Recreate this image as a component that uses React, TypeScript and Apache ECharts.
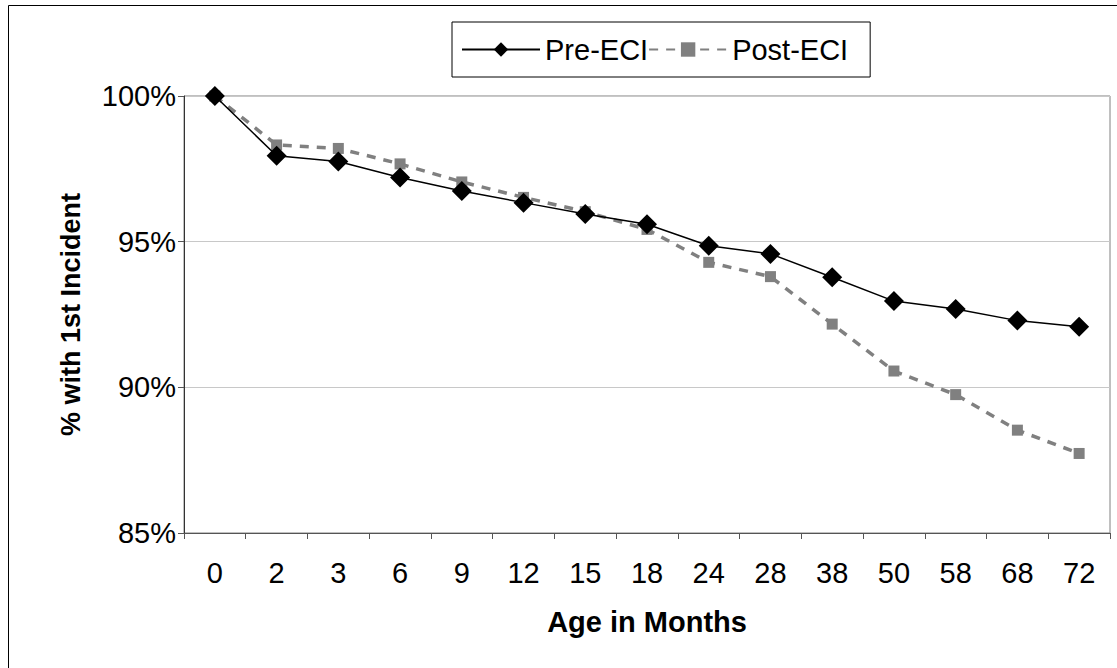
import React, { useEffect, useRef } from "react";
import * as echarts from "echarts";

const categories = ["0", "2", "3", "6", "9", "12", "15", "18", "24", "28", "38", "50", "58", "68", "72"];
const preECI = [100, 97.95, 97.75, 97.2, 96.74, 96.34, 95.95, 95.6, 94.86, 94.58, 93.78, 92.96, 92.69, 92.29, 92.08];
const postECI = [100, 98.32, 98.2, 97.67, 97.05, 96.52, 96.03, 95.42, 94.29, 93.8, 92.17, 90.56, 89.75, 88.53, 87.73];
const yTicks = { min: 85, max: 100, interval: 5 };

const FONT = "'Liberation Sans', Arial, sans-serif";

export default function App() {
  const ref = useRef<HTMLDivElement>(null);
  useEffect(() => {
    if (!ref.current) return;
    const chart = echarts.init(ref.current, null, { renderer: "svg" });
    chart.setOption({
      animation: false,
      backgroundColor: "#ffffff",
      textStyle: { fontFamily: FONT },
      graphic: [
        {
          type: "rect",
          shape: { x: 8.5, y: 5.5, width: 1300, height: 900 },
          style: { fill: "none", stroke: "#000", lineWidth: 1 },
          silent: true,
          z: -10,
        },
      ],
      grid: {
        left: 184,
        right: 7,
        top: 96,
        bottom: 135,
        show: true,
        borderColor: "#808080",
        borderWidth: 1,
        backgroundColor: "transparent",
      },
      legend: {
        left: 452,
        top: 22,
        padding: [13, 22, 13, 9],
        backgroundColor: "#fff",
        borderColor: "#000",
        borderWidth: 1,
        itemWidth: 78,
        itemHeight: 18,
        itemGap: 0,
        textStyle: { fontSize: 29, lineHeight: 29, color: "#000", fontFamily: FONT },
        data: ["Pre-ECI", "Post-ECI"],
      },
      xAxis: {
        type: "category",
        data: categories,
        boundaryGap: true,
        axisLine: { lineStyle: { color: "#555", width: 1 } },
        axisTick: { show: true, interval: 0, length: 6, lineStyle: { color: "#555" } },
        axisLabel: { fontSize: 29, color: "#000", margin: 25, interval: 0, fontFamily: FONT },
        name: "Age in Months",
        nameLocation: "middle",
        nameGap: 74,
        nameTextStyle: { fontSize: 29, fontWeight: "bold", color: "#000", fontFamily: FONT },
      },
      yAxis: {
        type: "value",
        min: yTicks.min,
        max: yTicks.max,
        interval: yTicks.interval,
        axisLine: { show: true, lineStyle: { color: "#333", width: 1 } },
        axisTick: { show: true, length: 6, lineStyle: { color: "#555" } },
        axisLabel: { fontSize: 29, color: "#000", margin: 8, formatter: "{value}%", fontFamily: FONT },
        splitLine: { show: true, lineStyle: { color: "#c8c8c8", width: 1 } },
        name: "% with 1st Incident",
        nameLocation: "middle",
        nameGap: 100,
        nameRotate: 90,
        nameTextStyle: { fontSize: 27, fontWeight: "bold", color: "#000", fontFamily: FONT },
      },
      series: [
        {
          name: "Pre-ECI",
          type: "line",
          data: preECI,
          symbol: "diamond",
          symbolSize: 20,
          showAllSymbol: true,
          itemStyle: { color: "#000" },
          lineStyle: { color: "#000", width: 1.5 },
          z: 3,
        },
        {
          name: "Post-ECI",
          type: "line",
          data: postECI,
          symbol: "rect",
          symbolSize: 11,
          showAllSymbol: true,
          itemStyle: { color: "#808080" },
          lineStyle: { color: "#808080", width: 3.5, type: [9, 8] },
          z: 2,
        },
      ],
    });
    return () => chart.dispose();
  }, []);
  return (
    <div
      ref={ref}
      style={{ position: "absolute", left: 0, top: 0, width: 1117, height: 668 }}
    />
  );
}
